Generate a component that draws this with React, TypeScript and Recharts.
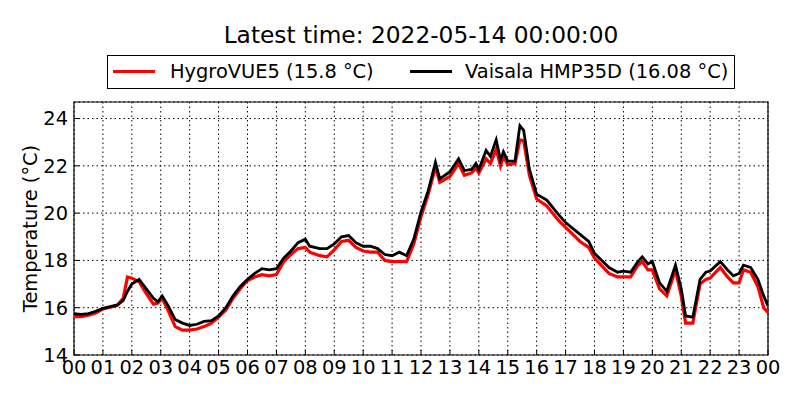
import { LineChart, Line, XAxis, YAxis, CartesianGrid, ReferenceArea } from "recharts";

// hours since midnight, 2022-05-13 -> 2022-05-14
const hours = [
    0, 0.25, 0.5, 0.75, 1, 1.25, 1.5, 1.7, 1.85, 2, 2.25, 2.5, 2.75, 2.9, 3.05, 3.25, 3.5, 3.75,
    4, 4.25, 4.5, 4.75, 5, 5.25, 5.5, 5.75, 6, 6.25, 6.5, 6.75, 7, 7.25, 7.5, 7.75, 8, 8.15,
    8.5, 8.75, 9, 9.25, 9.5, 9.75, 10, 10.25, 10.5, 10.75, 11, 11.25, 11.5, 11.75, 12, 12.25,
    12.5, 12.65, 13, 13.3, 13.5, 13.75, 13.9, 14, 14.25, 14.4, 14.6, 14.75, 14.85, 15, 15.25,
    15.42, 15.55, 15.75, 16, 16.35, 16.75, 17, 17.5, 17.8, 18, 18.5, 18.8, 19, 19.25, 19.5,
    19.65, 19.85, 20, 20.25, 20.5, 20.8, 21, 21.15, 21.4, 21.65, 21.85, 22, 22.35, 22.6, 22.8,
    23, 23.15, 23.4, 23.65, 23.85, 24,
];

const hygro = [
    15.62, 15.62, 15.68, 15.78, 15.95, 16.02, 16.1, 16.4, 17.3, 17.25, 17.1, 16.6, 16.15, 16.2,
    16.4, 15.9, 15.2, 15.05, 15.05, 15.1, 15.2, 15.35, 15.6, 15.9, 16.4, 16.8, 17.15, 17.3,
    17.4, 17.35, 17.4, 17.95, 18.25, 18.5, 18.55, 18.35, 18.2, 18.15, 18.45, 18.8, 18.85,
    18.55, 18.4, 18.35, 18.35, 18.0, 17.95, 17.95, 17.95, 18.7, 19.85, 20.8, 21.95, 21.3,
    21.55, 22.1, 21.6, 21.7, 21.9, 21.7, 22.3, 22.1, 22.7, 22.0, 22.4, 22.05, 22.1, 23.1,
    23.05, 21.6, 20.6, 20.3, 19.7, 19.4, 18.8, 18.55, 18.1, 17.45, 17.3, 17.3, 17.3, 17.8,
    17.95, 17.6, 17.6, 16.8, 16.5, 17.6, 16.5, 15.35, 15.35, 17.0, 17.2, 17.25, 17.7, 17.3,
    17.05, 17.05, 17.6, 17.5, 16.9, 16.0, 15.8,
];

const vaisala = [
    15.75, 15.72, 15.75, 15.85, 15.97, 16.05, 16.12, 16.3, 16.7, 17.0, 17.2, 16.8, 16.4, 16.25,
    16.5, 16.1, 15.5, 15.35, 15.25, 15.3, 15.42, 15.45, 15.65, 16.0, 16.5, 16.9, 17.2, 17.45,
    17.65, 17.6, 17.65, 18.1, 18.4, 18.75, 18.9, 18.6, 18.5, 18.5, 18.7, 19.0, 19.05, 18.75,
    18.6, 18.6, 18.5, 18.25, 18.2, 18.35, 18.2, 18.9, 20.05, 20.95, 22.15, 21.45, 21.75, 22.3,
    21.8, 21.85, 22.1, 21.85, 22.65, 22.4, 23.1, 22.25, 22.6, 22.2, 22.2, 23.7, 23.5, 21.85,
    20.8, 20.55, 19.95, 19.6, 19.1, 18.8, 18.3, 17.7, 17.5, 17.55, 17.5, 17.95, 18.15, 17.85,
    17.95, 17.05, 16.7, 17.8, 16.8, 15.65, 15.6, 17.2, 17.5, 17.55, 17.95, 17.6, 17.35, 17.45,
    17.8, 17.7, 17.2, 16.5, 16.08,
];

const hourTicks = [0, 1, 2, 3, 4, 5, 6, 7, 8, 9, 10, 11, 12, 13, 14, 15, 16, 17, 18, 19, 20, 21, 22, 23, 24];
const tempTicks = [14, 16, 18, 20, 22, 24];

const TITLE = "Latest time: 2022-05-14 00:00:00";
const HYGRO_NAME = "HygroVUE5 (15.8 °C)";
const VAISALA_NAME = "Vaisala HMP35D (16.08 °C)";

const FONT = "'DejaVu Sans', sans-serif";

const rows = hours.map((h, i) => ({ h, hygro: hygro[i], vaisala: vaisala[i] }));

const fmtHour = (h: number) => String(h % 24).padStart(2, "0");

export default function App() {
    return (
        <div
            style={{
                position: "absolute",
                left: 0,
                top: 0,
                width: 800,
                height: 400,
                background: "#fff",
                fontFamily: FONT,
                color: "#000",
            }}
        >
            <div
                style={{
                    position: "absolute",
                    top: 23,
                    left: 74,
                    width: 694,
                    textAlign: "center",
                    fontSize: 23.3,
                    lineHeight: "23.3px",
                    whiteSpace: "nowrap",
                }}
            >
                {TITLE}
            </div>

            <div
                style={{
                    position: "absolute",
                    top: 55,
                    left: 107,
                    width: 628,
                    height: 34,
                    border: "1px solid #000",
                    boxSizing: "border-box",
                    fontSize: 19.4,
                    lineHeight: "19.4px",
                    whiteSpace: "nowrap",
                }}
            >
                <div style={{ position: "absolute", left: 5, top: 14, width: 42, height: 3, background: "#ff0000" }} />
                <div style={{ position: "absolute", left: 62, top: 6 }}>{HYGRO_NAME}</div>
                <div style={{ position: "absolute", left: 302, top: 14, width: 42, height: 3, background: "#000" }} />
                <div style={{ position: "absolute", left: 357, top: 6 }}>{VAISALA_NAME}</div>
            </div>

            <div style={{ position: "absolute", left: 0, top: 0 }}>
                <LineChart width={800} height={400} data={rows} margin={{ top: 102, right: 32, bottom: 0, left: 0 }}>
                    <CartesianGrid stroke="#000" strokeDasharray="1.5 3" strokeWidth={1} />
                    <XAxis
                        dataKey="h"
                        type="number"
                        domain={[0, 24]}
                        ticks={hourTicks}
                        tickFormatter={fmtHour}
                        interval={0}
                        height={45}
                        axisLine={false}
                        tickLine={{ stroke: "#000" }}
                        tickSize={-5}
                        tickMargin={10}
                        tick={{ fill: "#000", fontSize: 19.4, fontFamily: FONT }}
                        allowDataOverflow
                    />
                    <YAxis
                        type="number"
                        domain={[14, 24.7]}
                        ticks={tempTicks}
                        interval={0}
                        width={74}
                        axisLine={false}
                        tickLine={{ stroke: "#000" }}
                        tickSize={-5}
                        tickMargin={11}
                        tick={{ fill: "#000", fontSize: 19.4, fontFamily: FONT }}
                        allowDataOverflow
                        label={{
                            value: "Temperature (°C)",
                            angle: -90,
                            position: "insideLeft",
                            offset: 30,
                            style: { textAnchor: "middle", fill: "#000", fontSize: 19.4, fontFamily: FONT },
                        }}
                    />
                    <ReferenceArea x1={0} x2={24} y1={14} y2={24.7} fill="none" stroke="#000" strokeWidth={1.2} />
                    <Line
                        dataKey="hygro"
                        name={HYGRO_NAME}
                        type="linear"
                        stroke="#ff0000"
                        strokeWidth={3.2}
                        dot={false}
                        isAnimationActive={false}
                    />
                    <Line
                        dataKey="vaisala"
                        name={VAISALA_NAME}
                        type="linear"
                        stroke="#000"
                        strokeWidth={2.8}
                        dot={false}
                        isAnimationActive={false}
                    />
                </LineChart>
            </div>
        </div>
    );
}
